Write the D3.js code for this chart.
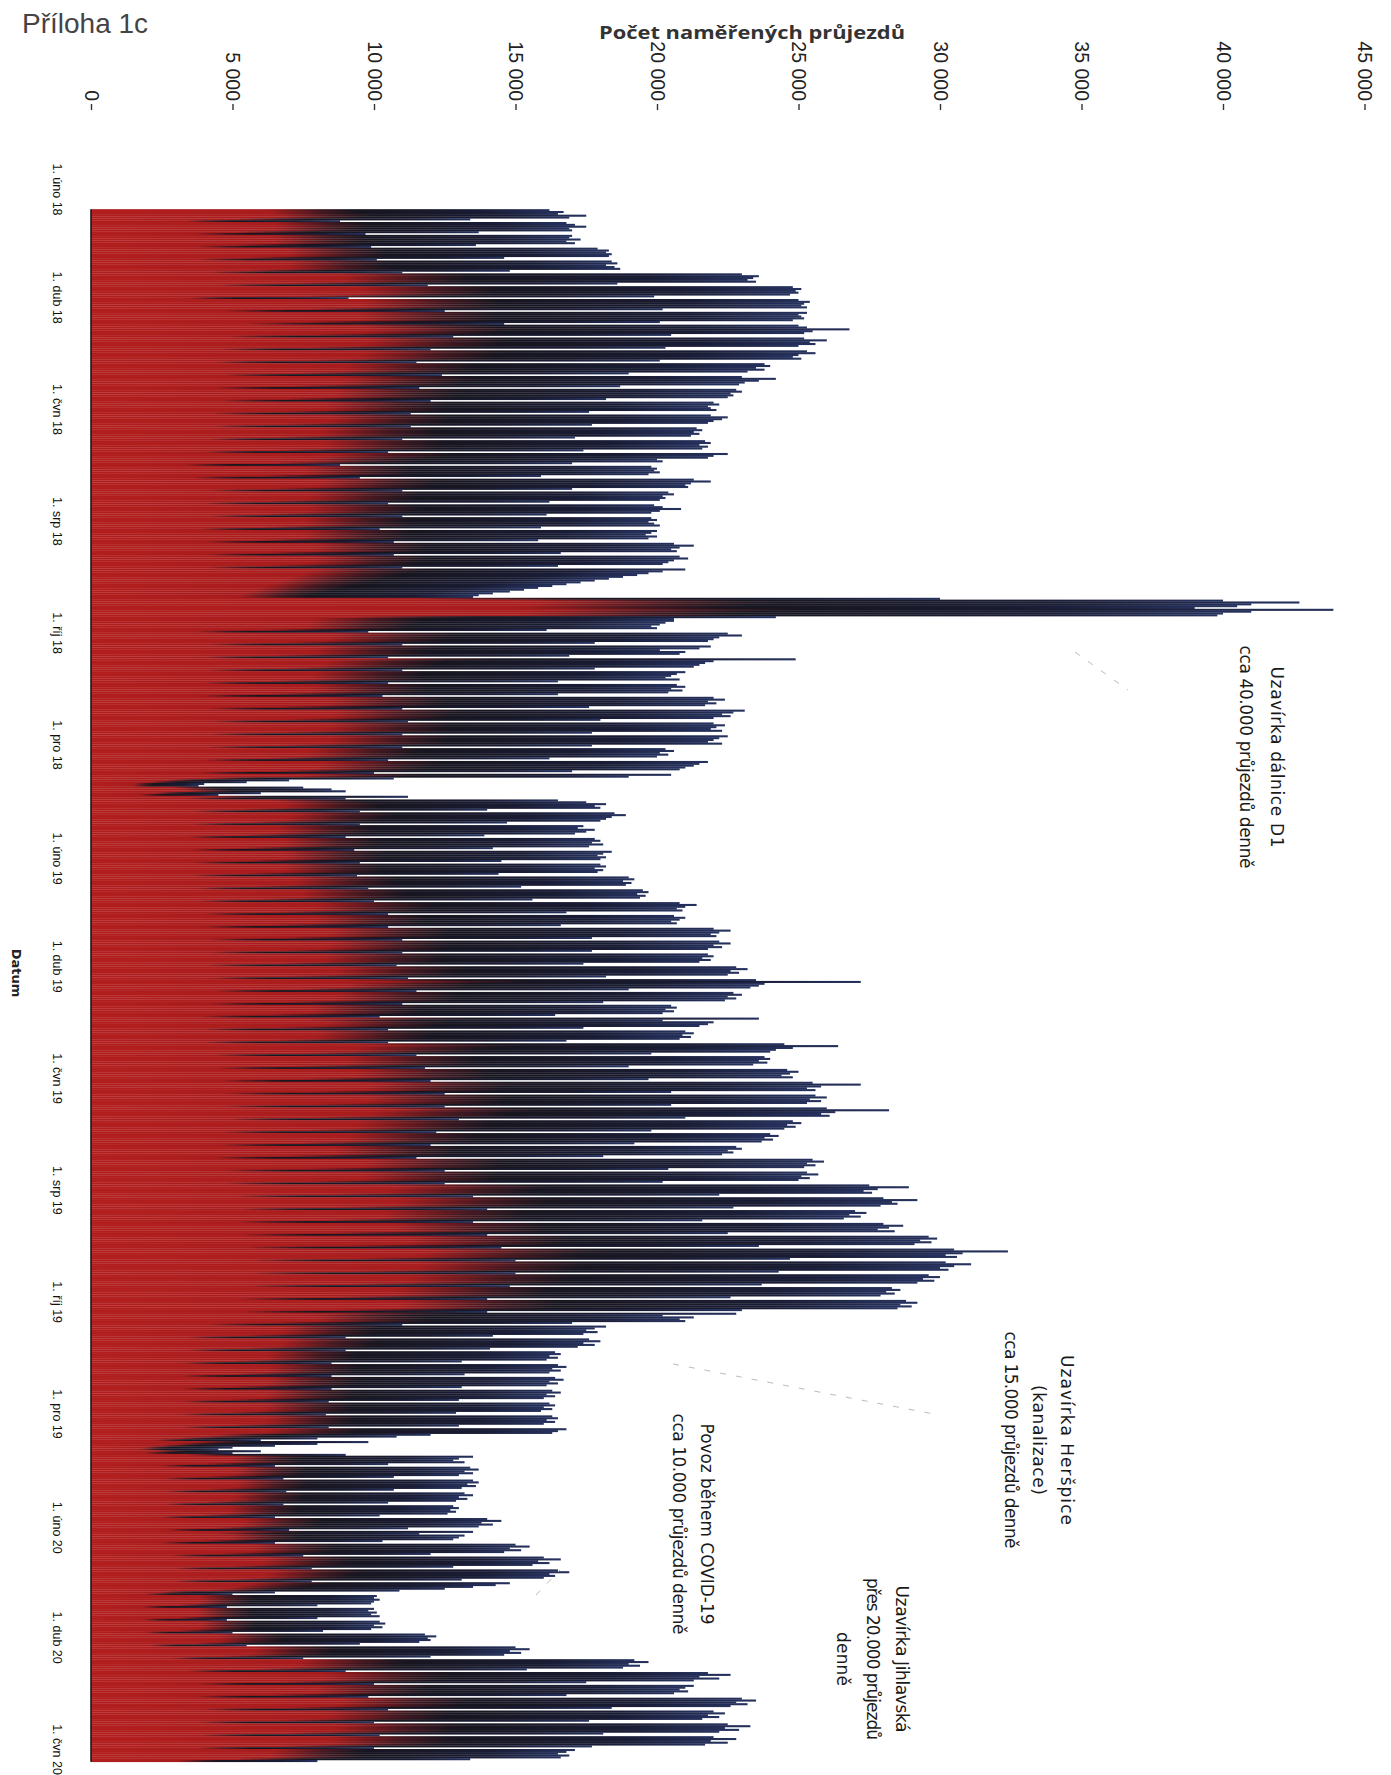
<!DOCTYPE html>
<html><head><meta charset="utf-8">
<script src="https://cdn.jsdelivr.net/npm/d3@7"></script>
<style>body{margin:0;background:#fff}svg{display:block}</style>
</head><body><svg id="c" width="1391" height="1775"></svg>
<script>
// ---------------- DATA ----------------
const startDate = "2018-02-12";
const dailyCounts = [
16200,16700,16500,17500,16900,13400,8800,
16800,17100,17500,16900,17000,13700,9700,
17000,16900,17300,16800,17100,13600,9900,
17900,18300,18200,18400,18300,14600,10100,
18400,18600,18200,18500,18700,14800,11000,
23000,23600,23400,23200,23500,18600,11900,
24800,25100,24900,25000,24700,19900,9100,
25000,25400,25200,25100,25300,20200,12500,
25300,25000,25100,25200,24800,20100,14600,
25000,25300,26800,25500,25200,20500,12800,
25200,26000,25400,25600,25000,20300,12000,
25300,25600,25000,24800,25100,20100,11500,
23800,24000,23500,23800,23200,19000,12400,
23000,24200,23600,23100,22900,18700,11600,
22800,23000,22600,22700,22500,18200,12000,
22000,22200,21800,21900,22100,17600,11300,
21900,22500,22300,22000,21800,17700,11300,
21400,21600,21300,21500,21200,17100,11000,
21700,21900,21500,21800,21600,17400,10500,
22500,22000,21800,20000,20200,17000,8800,
19800,20000,19900,20100,19700,15900,9500,
21300,21900,21200,21000,21100,17000,11000,
20400,20600,20200,20300,20100,16200,10500,
19900,20200,20850,20100,19800,16100,11000,
19800,20000,19700,19900,20100,15900,10200,
20000,19800,19600,20000,19700,15800,10700,
20600,21300,20800,20500,20700,16600,10700,
20800,21100,20600,20400,20200,16500,11000,
21000,20200,19700,19300,18800,18300,17800,
17300,16800,16300,15800,15300,14800,14200,
13700,13500,30000,40000,42700,41000,40500,
39000,43900,41000,40000,39800,24200,20600,
20600,20300,20100,19800,20000,16100,9800,
22500,23000,22200,22000,21800,17800,11000,
21900,21500,20100,21000,20800,16900,10500,
24900,22000,21700,21500,21300,17800,11000,
21000,20700,20500,20300,20800,16500,10500,
20700,21000,20500,20900,20400,16500,10300,
22000,22400,21800,22100,21700,17600,11000,
23100,22700,22300,22600,22000,18000,11200,
22000,22400,22100,21900,22300,17700,11000,
22500,22200,22000,21800,22300,17700,11000,
20300,20600,20100,20400,20000,16200,10500,
21800,21500,21300,21000,20800,17000,10000,
20500,19000,10700,7000,5500,4000,3800,
7500,8500,9000,6000,4500,11200,9000,
16500,17500,18200,17800,18000,14000,9500,
18500,18900,18400,18200,18000,14700,9500,
17400,17200,17800,17500,17100,13900,9000,
17800,18000,17700,18100,17600,14200,9300,
18400,18100,17900,18200,18000,14500,9500,
18000,18200,17800,18100,17900,14400,9400,
19000,19200,18800,19100,18900,15200,9800,
19500,19700,19300,19600,19400,15600,10000,
20800,21400,21000,20700,20900,16800,10500,
20600,21000,20800,20500,20700,16600,10500,
22000,22600,22200,21900,22100,17700,11000,
22200,22600,22000,22300,21800,17700,11000,
21800,22000,21600,21900,21500,17400,10800,
22800,23200,22600,22900,22500,18200,11200,
23500,27200,23800,23600,23300,19000,11500,
22700,23000,22500,22800,22400,18100,11000,
20500,20700,20300,20600,20200,16400,10200,
23600,20200,22000,21800,21500,17400,10500,
21000,21300,20900,21200,20800,16800,10500,
24500,26400,24800,24200,24000,19800,11500,
23800,24000,23600,23900,23400,19000,11800,
24600,25000,24700,24400,24800,19700,12000,
25500,27200,25800,25300,25600,20500,12500,
25600,26000,25400,25800,25300,20500,12500,
26000,28200,26300,25800,26100,21000,13000,
24800,25100,24600,24900,24500,19800,12200,
24000,24300,23800,24100,23700,19200,12000,
22800,23000,22500,22700,22300,18100,11500,
25500,25900,25300,25600,25200,20400,12500,
25300,25700,25100,25400,25000,20200,12500,
27500,28900,27800,27300,27600,22200,13500,
28000,29200,28300,28500,27900,22700,14000,
27000,27400,26800,27200,26600,21600,13500,
28000,28700,28200,27800,28400,22500,14000,
29600,29900,29300,29700,29100,23600,14500,
30500,32400,30800,30200,30600,24700,15000,
30200,31100,30500,30000,30300,24300,15000,
29600,30000,29400,29800,29200,23700,14800,
28300,28600,28100,28400,27900,22600,14000,
28800,29200,28600,29000,28500,23000,14000,
22800,20200,21300,20800,21000,17000,11000,
18200,17800,17500,17900,17400,14200,9000,
17600,18000,17400,17800,17200,14100,9000,
16400,16600,16200,16500,16100,13100,8500,
16500,16800,16300,16600,16200,13200,8500,
16400,16700,16200,16500,16100,13100,8500,
16300,16600,16100,16400,16000,13000,8400,
16200,16400,16000,16300,15900,12900,8300,
16300,16500,16100,16400,16000,13000,8400,
16800,16500,16300,12000,10800,8000,6000,
9800,8000,6500,5000,4500,6000,5000,
9000,13500,13000,12800,13200,10500,6500,
13400,13700,13200,13500,13000,10700,6800,
13500,13700,13300,13600,13100,10700,6900,
13200,13500,13000,13300,12900,10500,6800,
12800,13000,12700,12900,12600,10200,6500,
14000,14500,13800,14200,13700,11200,7000,
13500,11600,13200,13000,12800,10300,6500,
15000,15500,14800,15200,14600,12000,7500,
16000,16600,15800,16200,15600,12800,7800,
16500,16900,16200,16400,16000,13100,7800,
14800,14300,13500,12500,10900,6500,5000,
10100,10000,10200,10000,9900,8000,4800,
10000,9800,10100,9900,10200,8000,4800,
10200,10400,10000,10300,9900,8200,5000,
11800,12200,11900,12000,11600,9500,5500,
15000,15500,14800,15200,14600,12000,7500,
19200,19700,19000,19400,18800,15400,9000,
21800,22600,21500,22200,21300,17500,10000,
21300,21000,20800,21100,20600,16800,9800,
23000,23500,22800,23200,22600,18400,10500,
22000,22400,21800,22200,21600,17600,10000,
22500,23300,22400,22900,22200,18100,10200,
22000,22800,21900,22500,21700,17700,10000,
17100,16800,16500,16900,16600,13400,8000
];
const valueTicks = [0,5000,10000,15000,20000,25000,30000,35000,40000,45000];
const dateTicks = ["2018-02-01","2018-04-01","2018-06-01","2018-08-01","2018-10-01","2018-12-01",
  "2019-02-01","2019-04-01","2019-06-01","2019-08-01","2019-10-01","2019-12-01",
  "2020-02-01","2020-04-01","2020-06-01"];
const dateTickLabels = ["1. úno 18","1. dub 18","1. čvn 18","1. srp 18","1. říj 18","1. pro 18",
  "1. úno 19","1. dub 19","1. čvn 19","1. srp 19","1. říj 19","1. pro 19",
  "1. úno 20","1. dub 20","1. čvn 20"];
const pageTitle = "Příloha 1c";
const valueAxisTitle = "Počet naměřených průjezdů";
const dateAxisTitle = "Datum";
const noteD1 = ["Uzavírka dálnice D1","cca 40.000 průjezdů denně"];
const noteHerspice = ["Uzavírka Heršpice","(kanalizace)","cca 15.000 průjezdů denně"];
const noteCovid = ["Povoz během COVID-19","cca 10.000 průjezdů denně"];
const noteJihlavska = ["Uzavírka Jihlavská","přes 20.000 průjezdů","denně"];

// ---------------- CHART ----------------
const svg = d3.select("#c");
const DAY = 86400000;
const parse = s => new Date(s + "T00:00:00Z");
const x = d3.scaleLinear().domain([0,45000]).range([91,1364.5]);
const y = d3.scaleUtc().domain([parse("2018-02-01"), parse("2020-06-01")]).range([189,1749]);
const start = parse(startDate);
const data = dailyCounts.map((v,i)=>({date:new Date(start.getTime()+i*DAY), v}));
const step = y(new Date(start.getTime()+DAY)) - y(start);

const defs = svg.append("defs");
const g = defs.append("linearGradient").attr("id","barGrad").attr("x1","0").attr("x2","1").attr("y1","0").attr("y2","0");
[["0%","#b21e1e"],["38%","#a81c1d"],["49%","#451820"],["57%","#17151f"],["84%","#191c34"],["100%","#26325f"]]
  .forEach(([o,c])=>g.append("stop").attr("offset",o).attr("stop-color",c));

svg.append("g").selectAll("rect").data(data).join("rect")
  .attr("x", x(0))
  .attr("y", d=>y(d.date))
  .attr("width", d=>x(d.v)-x(0))
  .attr("height", step+0.25)
  .attr("fill","url(#barGrad)");

// base line
const yFirst = y(data[0].date), yLast = y(data[data.length-1].date)+step;
svg.append("line").attr("x1",x(0)).attr("x2",x(0)).attr("y1",yFirst).attr("y2",yLast)
  .attr("stroke","#1a1a1a").attr("stroke-width",1.6);

// value axis (top, labels rotated)
const fmt = v => d3.format(",")(v).replace(/,/g," ");
const ax = svg.append("g").attr("transform","translate(0,104)")
  .call(d3.axisBottom(x).tickValues(valueTicks).tickFormat(fmt).tickSize(6));
ax.select(".domain").remove();
ax.selectAll(".tick line").attr("stroke","#333").attr("stroke-width",1.4);
ax.selectAll(".tick text")
  .attr("x",-3).attr("y",0).attr("dy","0.35em")
  .attr("transform","rotate(90)")
  .style("text-anchor","end")
  .style("font-family","'Liberation Sans', Arial, sans-serif")
  .style("font-size","19.5px").attr("fill","#222");

// date axis (left, labels rotated)
const ay = svg.append("g").attr("transform","translate(57,0)")
  .call(d3.axisLeft(y).tickValues(dateTicks.map(parse)).tickFormat((d,i)=>dateTickLabels[i]).tickSize(0));
ay.select(".domain").remove();
ay.selectAll(".tick text")
  .attr("x",0).attr("y",0).attr("dy","0.35em")
  .attr("transform","rotate(90)")
  .style("text-anchor","middle")
  .style("font-family","'Liberation Sans', Arial, sans-serif")
  .style("font-size","12.5px").attr("fill","#111");

// titles
svg.append("text").attr("x",22).attr("y",33).text(pageTitle)
  .style("font-family","'Liberation Sans', Arial, sans-serif").style("font-size","28px").attr("fill","#444");
svg.append("text").attr("x",752).attr("y",39).attr("text-anchor","middle").text(valueAxisTitle)
  .attr("textLength",306).attr("lengthAdjust","spacingAndGlyphs")
  .style("font-family","'Open Sans', sans-serif").style("font-weight","700").style("font-size","18px").attr("fill","#333");
svg.append("text").attr("transform","translate(17,973) rotate(90)").attr("text-anchor","middle").attr("dy","0.35em")
  .text(dateAxisTitle)
  .style("font-family","'DejaVu Sans', sans-serif").style("font-weight","700").style("font-size","13px").attr("fill","#222");

// annotations (rotated, lines stacked right-to-left)
function note(lines, lengths, xFirst, yCenter, gap){
  const t = svg.append("g");
  lines.forEach((s,i)=>{
    t.append("text").attr("transform",`translate(${xFirst - i*gap},${yCenter}) rotate(90)`)
     .attr("text-anchor","middle").attr("dy","0.35em").text(s)
     .attr("textLength",lengths[i]).attr("lengthAdjust","spacing")
     .style("font-family","'DejaVu Sans', Verdana, sans-serif").style("font-size","17px").attr("fill","#1a1a1a");
  });
}
note(noteD1, [181,223], 1277, 757, 31);
note(noteHerspice, [170,110,217], 1067, 1440, 28);
note(noteCovid, [201,221], 707, 1524, 28);
note(noteJihlavska, [147,162,54], 902, 1659, 29.5);

// faint leader lines
const leaders = [[[673,1364],[939,1415]],[[1075,652],[1128,690]],[[536,1595],[560,1570]]];
svg.append("g").selectAll("line").data(leaders).join("line")
  .attr("x1",d=>d[0][0]).attr("y1",d=>d[0][1]).attr("x2",d=>d[1][0]).attr("y2",d=>d[1][1])
  .attr("stroke","#bbb").attr("stroke-width",1).attr("stroke-dasharray","6 10");
</script></body></html>
